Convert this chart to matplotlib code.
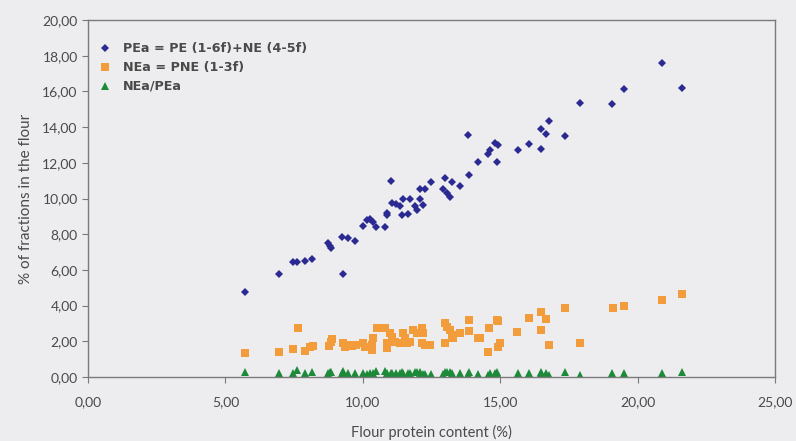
import matplotlib
matplotlib.use("Agg")
import matplotlib.pyplot as plt
from matplotlib.ticker import FuncFormatter, MultipleLocator

# PEa = PE(1-6f) + NE(4-5f)
pe_x = [5.73, 6.96, 7.45, 7.59, 7.88, 8.14, 8.75, 8.80, 8.86, 9.29, 9.23, 9.47,
        9.72, 10.02, 10.14, 10.26, 10.38, 10.47, 10.81, 10.87, 10.87, 11.03, 11.07,
        11.20, 11.35, 11.41, 11.65, 11.47, 11.72, 11.90, 11.96, 12.08, 12.26, 12.08,
        12.20, 12.47, 12.99, 12.93, 13.05, 13.17, 13.23, 13.54, 13.88, 13.84, 14.20,
        14.57, 14.63, 14.81, 14.93, 14.87, 15.66, 16.06, 16.49, 16.49, 16.65, 16.79,
        17.34, 17.90, 19.08, 19.50, 20.87, 21.63]
pe_y = [4.74, 5.79, 6.42, 6.46, 6.52, 6.63, 7.49, 7.36, 7.24, 5.75, 7.84, 7.77,
        7.64, 8.48, 8.80, 8.83, 8.70, 8.42, 8.42, 9.08, 9.20, 11.00, 9.73,
        9.67, 9.58, 9.08, 9.11, 9.95, 9.95, 9.58, 9.36, 10.51, 10.51, 10.00,
        9.64, 10.90, 11.17, 10.51, 10.29, 10.10, 10.90, 10.70, 11.32, 13.56, 12.06,
        12.52, 12.72, 13.13, 13.00, 12.06, 12.72, 13.03, 12.75, 13.91, 13.59, 14.36,
        13.48, 15.33, 15.29, 16.11, 17.57, 16.17]

# NEa = PNE(1-3f)
ne_x = [5.71, 6.96, 7.45, 7.63, 7.90, 8.08, 8.18, 8.78, 8.84, 8.87, 9.29, 9.35,
        9.47, 9.60, 9.75, 10.00, 10.08, 10.32, 10.36, 10.32, 10.51, 10.81, 10.99,
        11.05, 10.87, 10.87, 11.17, 11.35, 11.47, 11.54, 11.60, 11.72, 11.84, 11.96,
        12.14, 12.20, 12.14, 12.26, 12.45, 12.99, 13.05, 13.17, 13.23, 13.29, 12.99,
        13.54, 13.88, 13.88, 14.20, 14.27, 14.60, 14.87, 14.93, 15.00, 14.57, 14.93,
        15.60, 16.06, 16.49, 16.67, 16.49, 16.79, 17.36, 17.90, 19.09, 19.49, 20.87,
        21.63]
ne_y = [1.32, 1.42, 1.55, 2.72, 1.47, 1.66, 1.74, 1.74, 1.98, 2.11, 1.88, 1.70,
        1.79, 1.74, 1.79, 1.88, 1.70, 1.79, 2.17, 1.51, 2.72, 2.72, 2.44,
        2.26, 1.88, 1.61, 1.98, 1.92, 2.44, 2.17, 1.88, 1.98, 2.63, 2.44,
        2.72, 2.44, 1.88, 1.79, 1.79, 3.00, 2.82, 2.63, 2.35, 2.17, 1.88,
        2.44, 3.19, 2.59, 2.17, 2.17, 2.72, 3.19, 3.13, 1.88, 1.42, 1.70,
        2.54, 3.32, 3.66, 3.23, 2.63, 1.79, 3.85, 1.92, 3.88, 3.98, 4.31,
        4.63]

# NEa/PEa
ratio_x = pe_x
ratio_y = [0.28, 0.25, 0.24, 0.42, 0.23, 0.26, 0.23, 0.27, 0.29, 0.33, 0.24, 0.23,
           0.23, 0.22, 0.19, 0.20, 0.25, 0.32, 0.32, 0.21, 0.18, 0.20, 0.25,
           0.20, 0.20, 0.27, 0.24, 0.22, 0.20, 0.27, 0.26, 0.26, 0.17, 0.23,
           0.19, 0.16, 0.27, 0.18, 0.27, 0.26, 0.22, 0.23, 0.28, 0.19, 0.18,
           0.11, 0.21, 0.24, 0.13, 0.26, 0.20, 0.25, 0.21, 0.26, 0.24, 0.12,
           0.29, 0.13, 0.25, 0.25, 0.25, 0.29]

labels = ["PEa = PE (1-6f)+NE (4-5f)", "NEa = PNE (1-3f)", "NEa/PEa"]

bg = "#ededef"
text_col = "#4a4a4a"
plt.rcParams["font.family"] = ["Lato", "DejaVu Sans"]

fig = plt.figure(figsize=(7.96, 4.41), dpi=100, facecolor=bg)
ax = fig.add_axes([0.1106, 0.1451, 0.8630, 0.8095], facecolor=bg)

ax.plot(pe_x, pe_y, "D", color="#2a2a92", markersize=4.2, markeredgewidth=0, label=labels[0])
ax.plot(ne_x, ne_y, "s", color="#f39c3c", markersize=5.2, markeredgewidth=0, label=labels[1])
ax.plot(ratio_x, ratio_y, "^", color="#1d8a3a", markersize=5.3, markeredgewidth=0, label=labels[2])

ax.set_xlim(0, 25)
ax.set_ylim(0, 20)
ax.xaxis.set_major_locator(MultipleLocator(5))
ax.yaxis.set_major_locator(MultipleLocator(2))
fmt = FuncFormatter(lambda v, p: f"{v:.2f}".replace(".", ","))
ax.xaxis.set_major_formatter(fmt)
ax.yaxis.set_major_formatter(fmt)

for s in ax.spines.values():
    s.set_color("#7a7a7a")
    s.set_linewidth(1.0)
ax.tick_params(axis="both", colors="#7a7a7a", labelcolor=text_col, labelsize=10,
               length=4, width=0.8, direction="out")
ax.tick_params(axis="x", pad=10)

ax.set_xlabel("Flour protein content (%)", fontsize=10.5, color=text_col, labelpad=12)
ax.set_ylabel("% of fractions in the flour", fontsize=11, color=text_col, labelpad=7)

leg = ax.legend(loc="upper left", bbox_to_anchor=(-0.005, 0.98), frameon=False,
                prop={"family": "DejaVu Sans", "weight": "bold", "size": 9.2},
                handlelength=0.8, handletextpad=1.0, labelspacing=0.45,
                borderaxespad=0.8)
for t in leg.get_texts():
    t.set_color(text_col)

fig.savefig("out.png", dpi=100, facecolor=bg)
